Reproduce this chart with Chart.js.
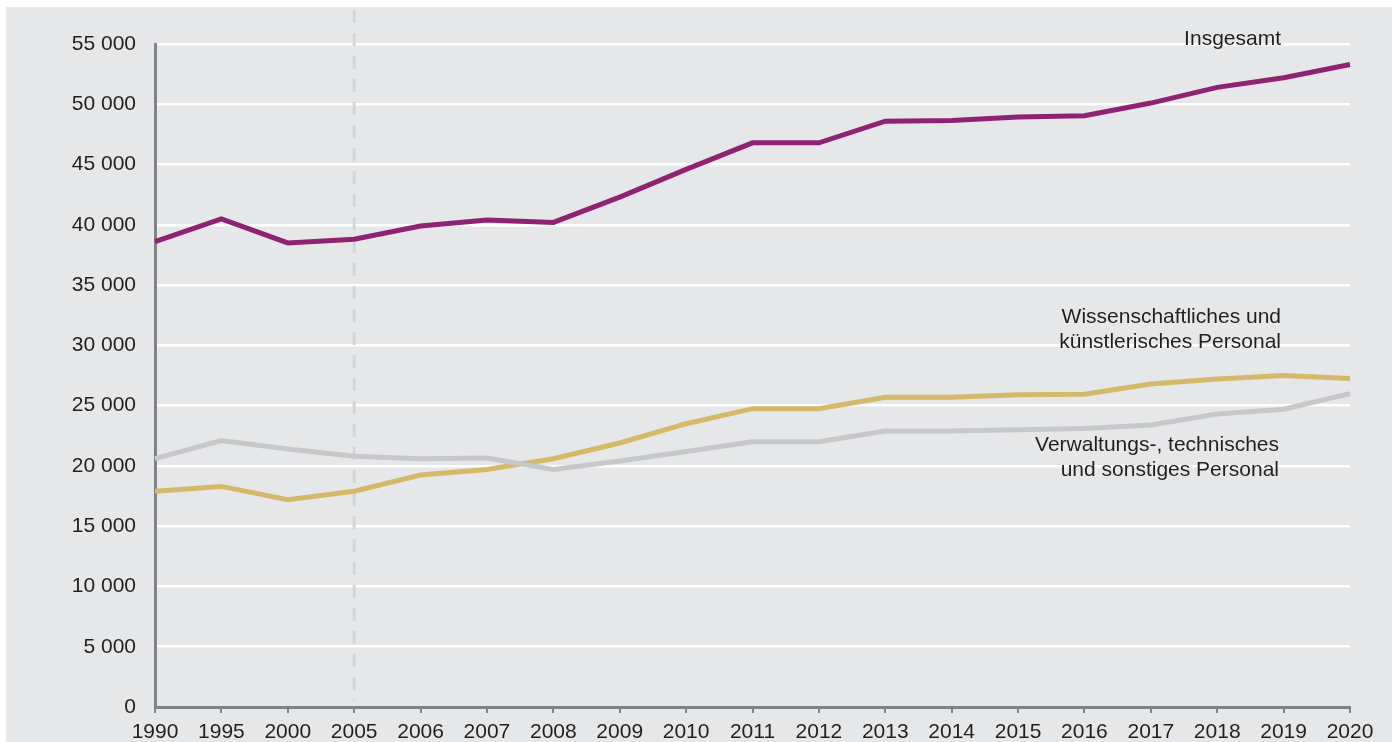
<!DOCTYPE html>
<html lang="de">
<head>
    <meta charset="UTF-8">
    <title>Personal an Hochschulen 1990–2020</title>
    <script src="https://cdn.jsdelivr.net/npm/chart.js"></script>
    <style>
        body {
            margin: 0;
            padding: 0;
            background: #ffffff;
        }
        #wrap {
            width: 1397px;
            height: 742px;
        }
    </style>
</head>
<body>
    <div id="wrap">
        <canvas id="chart" width="1397" height="742"></canvas>
    </div>

    <script>
        // Data
        const years = ['1990', '1995', '2000', '2005', '2006', '2007', '2008', '2009', '2010', '2011',
                       '2012', '2013', '2014', '2015', '2016', '2017', '2018', '2019', '2020'];

        const insgesamt = [38600, 40500, 38500, 38800, 39900, 40400, 40200, 42300, 44600, 46800,
                           46800, 48600, 48650, 48950, 49050, 50100, 51400, 52200, 53300];

        const wissenschaftlich = [17900, 18300, 17200, 17900, 19250, 19700, 20600, 21900, 23500, 24750,
                                  24750, 25700, 25700, 25900, 25950, 26800, 27200, 27500, 27250];

        const verwaltung = [20600, 22100, 21400, 20800, 20600, 20650, 19700, 20400, 21200, 22000,
                            22000, 22900, 22900, 23000, 23100, 23400, 24300, 24700, 26000];

        const seriesLabels = [
            ['Insgesamt'],
            ['Wissenschaftliches und', 'künstlerisches Personal'],
            ['Verwaltungs-, technisches', 'und sonstiges Personal']
        ];

        const FONT = '"Liberation Sans", Arial, sans-serif';
        const TEXT = '#231f20';
        const AXIS = '#808285';

        // grey panel behind everything
        const panel = {
            id: 'panel',
            beforeDraw(chart) {
                const ctx = chart.ctx;
                ctx.save();
                ctx.fillStyle = '#e6e7e8';
                ctx.fillRect(6, 7, 1386, 735);
                ctx.restore();
            }
        };

        // dashed marker at 2005
        const marker = {
            id: 'marker',
            beforeDatasetsDraw(chart) {
                const ctx = chart.ctx;
                const x = chart.scales.x.getPixelForValue(3);
                ctx.save();
                ctx.strokeStyle = '#d4d5d7';
                ctx.lineWidth = 3;
                ctx.setLineDash([13, 10]);
                ctx.beginPath();
                ctx.moveTo(x, 10);
                ctx.lineTo(x, chart.chartArea.bottom - 6);
                ctx.stroke();
                ctx.restore();
            }
        };

        // series labels next to the lines
        const labels = {
            id: 'labels',
            afterDatasetsDraw(chart) {
                const ctx = chart.ctx;
                ctx.save();
                ctx.fillStyle = TEXT;
                ctx.font = '21px ' + FONT;
                ctx.textAlign = 'right';
                ctx.textBaseline = 'middle';
                const spots = [[1281, 39], [1281, 317], [1279, 445]];
                seriesLabels.forEach((lines, i) => {
                    lines.forEach((t, j) => {
                        ctx.fillText(t, spots[i][0], spots[i][1] + j * 25);
                    });
                });
                ctx.restore();
            }
        };

        function fmt(v) {
            return String(v).replace(/\B(?=(\d{3})+(?!\d))/g, ' ');
        }

        new Chart(document.getElementById('chart'), {
            type: 'line',
            data: {
                labels: years,
                datasets: [
                    {
                        label: 'Insgesamt',
                        data: insgesamt,
                        borderColor: '#8f2373',
                        borderWidth: 5,
                        order: 0
                    },
                    {
                        label: 'Verwaltungs-, technisches und sonstiges Personal',
                        data: verwaltung,
                        borderColor: '#c7c8ca',
                        borderWidth: 5,
                        order: 1
                    },
                    {
                        label: 'Wissenschaftliches und künstlerisches Personal',
                        data: wissenschaftlich,
                        borderColor: '#d4b96a',
                        borderWidth: 5,
                        order: 2
                    }
                ]
            },
            options: {
                responsive: false,
                animation: false,
                events: [],
                layout: {
                    padding: { left: 0, top: 44, right: 47, bottom: 0 }
                },
                elements: {
                    point: { radius: 0 },
                    line: { tension: 0, fill: false }
                },
                plugins: {
                    legend: { display: false },
                    tooltip: { enabled: false }
                },
                scales: {
                    x: {
                        type: 'category',
                        offset: false,
                        afterFit(scale) { scale.height = 35; },
                        grid: {
                            drawOnChartArea: false,
                            drawTicks: true,
                            tickLength: 6,
                            color: AXIS,
                            lineWidth: 2
                        },
                        border: { color: AXIS, width: 3 },
                        ticks: {
                            color: TEXT,
                            font: { family: FONT, size: 21 },
                            padding: 7,
                            maxRotation: 0,
                            autoSkip: false
                        }
                    },
                    y: {
                        min: 0,
                        max: 55000,
                        afterFit(scale) { scale.width = 155; },
                        grid: {
                            color: '#ffffff',
                            lineWidth: 2.5,
                            drawTicks: false
                        },
                        border: { color: AXIS, width: 3 },
                        ticks: {
                            stepSize: 5000,
                            color: TEXT,
                            font: { family: FONT, size: 21 },
                            padding: 19,
                            callback: v => fmt(v)
                        }
                    }
                }
            },
            plugins: [panel, marker, labels]
        });
    </script>
</body>
</html>
